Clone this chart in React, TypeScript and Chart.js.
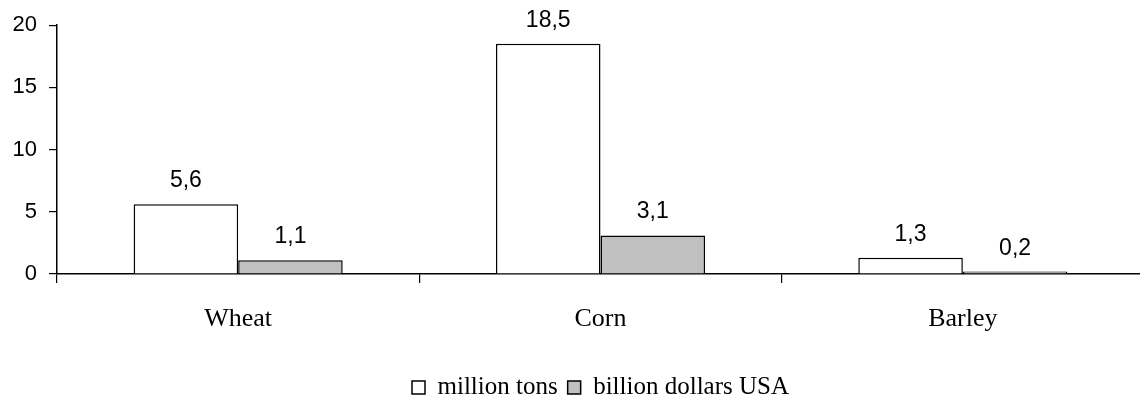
import React, { useEffect, useRef } from "react";
import { Chart, registerables } from "chart.js";

Chart.register(...registerables);

const categories = ["Wheat", "Corn", "Barley"];
const millionTons = [5.6, 18.5, 1.3];
const billionDollars = [1.1, 3.1, 0.2];
const seriesNames = ["million tons", "billion dollars USA"];
const yTicks = [0, 5, 10, 15, 20];

const SANS = "'Liberation Sans', Arial, sans-serif";
const SERIF = "'Liberation Serif', 'Times New Roman', serif";

const valueLabels = {
  id: "valueLabels",
  afterDatasetsDraw(chart: any) {
    const ctx = chart.ctx;
    ctx.save();
    ctx.font = `23px ${SANS}`;
    ctx.fillStyle = "#000";
    ctx.textAlign = "center";
    ctx.textBaseline = "alphabetic";
    chart.data.datasets.forEach((ds: any, i: number) => {
      const meta = chart.getDatasetMeta(i);
      meta.data.forEach((el: any, j: number) => {
        const v = ds.data[j] as number;
        const txt = v.toFixed(1).replace(".", ",");
        ctx.fillText(txt, el.x, el.y - 17);
      });
    });
    ctx.restore();
  },
};

export default function App() {
  const ref = useRef<HTMLCanvasElement | null>(null);
  useEffect(() => {
    if (!ref.current) return;
    const chart = new Chart(ref.current, {
      type: "bar",
      data: {
        labels: categories,
        datasets: [
          {
            label: seriesNames[0],
            data: millionTons,
            backgroundColor: "#ffffff",
            borderColor: "#000000",
            borderWidth: 1.5,
          },
          {
            label: seriesNames[1],
            data: billionDollars,
            backgroundColor: "#c0c0c0",
            borderColor: "#000000",
            borderWidth: 1.5,
          },
        ],
      },
      options: {
        animation: false,
        responsive: true,
        maintainAspectRatio: false,
        layout: { padding: { top: 25, left: 0, right: 6, bottom: 0 } },
        datasets: {
          bar: { barPercentage: 1, categoryPercentage: 0.577 },
        },
        plugins: {
          tooltip: { enabled: false },
          legend: {
            position: "bottom",
            fullSize: false,
            maxHeight: 35,
            labels: {
              color: "#000",
              font: { family: SERIF, size: 25 },
              boxWidth: 13,
              boxHeight: 13,
              padding: 10,
            },
          },
        },
        scales: {
          x: {
            type: "category",
            offset: true,
            grid: {
              offset: true,
              drawOnChartArea: false,
              drawTicks: true,
              tickLength: 9,
              color: "#000",
              lineWidth: 1.2,
            },
            border: { display: true, color: "#000", width: 1.5 },
            ticks: {
              color: "#000",
              font: { family: SERIF, size: 26 },
              padding: 21,
            },
            afterFit: (s: any) => {
              s.height = 91;
            },
          },
          y: {
            min: 0,
            max: 20,
            afterBuildTicks: (s: any) => {
              s.ticks = yTicks.map((v) => ({ value: v }));
            },
            grid: {
              drawOnChartArea: false,
              drawTicks: true,
              tickLength: 8,
              color: "#000",
              lineWidth: 1.2,
            },
            border: { display: true, color: "#000", width: 1.5 },
            ticks: {
              color: "#000",
              font: { family: SANS, size: 22 },
              padding: 12,
            },
            afterFit: (s: any) => {
              s.width = 57;
            },
          },
        },
      },
      plugins: [valueLabels],
    });
    return () => chart.destroy();
  }, []);

  return (
    <div
      style={{
        position: "fixed",
        left: 0,
        top: 0,
        width: 1140,
        height: 400,
        overflow: "hidden",
        background: "#fff",
      }}
    >
      <div style={{ position: "relative", width: 1150, height: 400 }}>
        <canvas ref={ref} />
      </div>
    </div>
  );
}
